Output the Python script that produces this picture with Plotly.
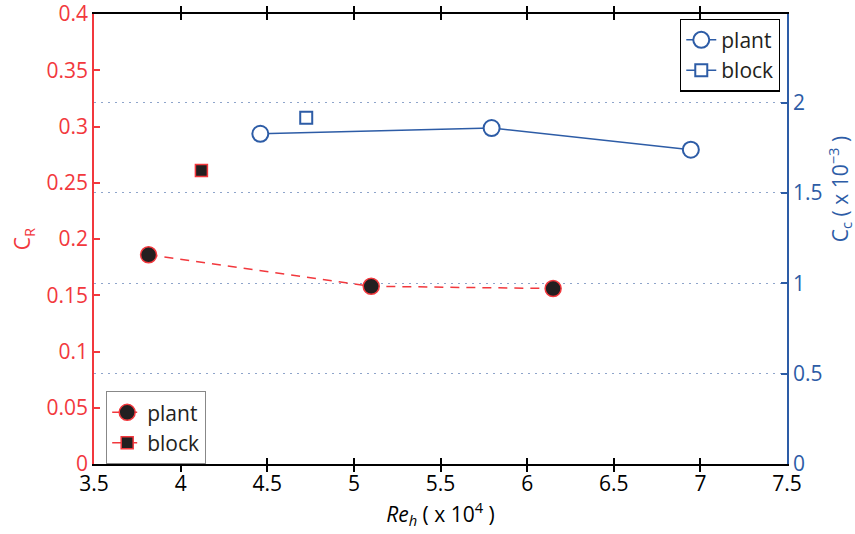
import plotly.graph_objects as go

# Data
re_plant_cr = [3.815, 5.10, 6.15]
cr_plant = [0.186, 0.158, 0.156]
re_block_cr = [4.12]
cr_block = [0.261]

re_plant_cc = [4.46, 5.795, 6.945]
cc_plant = [1.827, 1.859, 1.739]
re_block_cc = [4.725]
cc_block = [1.916]

x_ticks = [3.5, 4, 4.5, 5, 5.5, 6, 6.5, 7, 7.5]
x_ticklabels = ["3.5", "4", "4.5", "5", "5.5", "6", "6.5", "7", "7.5"]
cr_ticks = [0, 0.05, 0.1, 0.15, 0.2, 0.25, 0.3, 0.35, 0.4]
cr_ticklabels = ["0", "0.05", "0.1", "0.15", "0.2", "0.25", "0.3", "0.35", "0.4"]
cc_ticks = [0, 0.5, 1, 1.5, 2]
cc_ticklabels = ["0", "0.5", "1", "1.5", "2"]

RED = "#f2383d"
BLUE = "#2d5ca6"
DARK = "#231f20"
FONT = "Open Sans"
FS = 21

fig = go.Figure()

fig.add_trace(go.Scatter(
    x=re_plant_cr, y=cr_plant, name="plant", mode="lines+markers",
    line=dict(color=RED, width=1.5, dash="9px,7px"),
    marker=dict(symbol="circle", size=16, color=DARK, line=dict(color=RED, width=1.5)),
    yaxis="y", legend="legend2"))
fig.add_trace(go.Scatter(
    x=re_block_cr, y=cr_block, name="block", mode="lines+markers",
    line=dict(color=RED, width=1.5, dash="9px,7px"),
    marker=dict(symbol="square", size=12, color=DARK, line=dict(color=RED, width=1.5)),
    yaxis="y", legend="legend2"))

fig.add_trace(go.Scatter(
    x=re_plant_cc, y=cc_plant, name="plant", mode="lines+markers",
    line=dict(color=BLUE, width=1.5),
    marker=dict(symbol="circle", size=16, color="white", line=dict(color=BLUE, width=2)),
    yaxis="y2", legend="legend"))
fig.add_trace(go.Scatter(
    x=re_block_cc, y=cc_block, name="block", mode="lines+markers",
    line=dict(color=BLUE, width=1.5),
    marker=dict(symbol="square", size=12, color="white", line=dict(color=BLUE, width=2)),
    yaxis="y2", legend="legend"))

fig.update_layout(
    width=855, height=534,
    margin=dict(l=94, r=68, t=14, b=70, autoexpand=False),
    paper_bgcolor="white", plot_bgcolor="white",
    font=dict(family=FONT, size=FS, color="black"),
    xaxis=dict(
        range=[3.5, 7.5], tickvals=x_ticks, ticktext=x_ticklabels,
        ticks="inside", ticklen=6, tickwidth=1.5, tickcolor="black",
        showline=True, linecolor="black", linewidth=1.5, mirror="allticks",
        showgrid=False, zeroline=False, automargin=False,
        tickfont=dict(size=FS, color="black"),
        title=dict(text="<i>Re<sub>h</sub></i> ( x 10<sup>4</sup> )",
                   font=dict(size=FS, color="black"), standoff=4),
    ),
    yaxis=dict(
        range=[0, 0.4001], tickvals=cr_ticks, ticktext=cr_ticklabels,
        ticks="inside", ticklen=6, tickwidth=1.5, tickcolor=RED,
        showline=True, linecolor=RED, linewidth=1.5, mirror=True,
        showgrid=False, zeroline=False, ticklabeloverflow="allow", automargin=False,
        tickfont=dict(size=FS, color=RED),
        title=dict(text="C<sub>R</sub>", font=dict(size=FS, color=RED), standoff=10),
    ),
    yaxis2=dict(
        range=[0, 2.49], tickvals=cc_ticks, ticktext=cc_ticklabels,
        overlaying="y", side="right", automargin=False,
        ticks="inside", ticklen=6, tickwidth=1.5, tickcolor=BLUE,
        showline=True, linecolor=BLUE, linewidth=1.5,
        showgrid=True, gridcolor="#8ea4ca", gridwidth=1.3, griddash="1.5px,5.5px",
        zeroline=False,
        tickfont=dict(size=FS, color=BLUE),
    ),
    legend=dict(
        x=0.99, y=0.99, xanchor="right", yanchor="top",
        bgcolor="white", bordercolor="black", borderwidth=1.2,
        font=dict(size=FS, color=DARK), tracegroupgap=0, itemwidth=30,
    ),
    legend2=dict(
        x=0.0173, y=0.0, xanchor="left", yanchor="bottom",
        bgcolor="white", bordercolor="#888888", borderwidth=1.2,
        font=dict(size=FS, color=DARK), tracegroupgap=0, itemwidth=30,
    ),
    annotations=[dict(
        text="C<sub>c</sub> ( x 10<sup>\u22123</sup> )",
        xref="paper", yref="paper", x=1.076, y=0.61,
        xanchor="center", yanchor="middle", textangle=-90, showarrow=False,
        font=dict(size=FS, color=BLUE, family=FONT),
    )],
    showlegend=True,
)

fig.write_html("out.html")
